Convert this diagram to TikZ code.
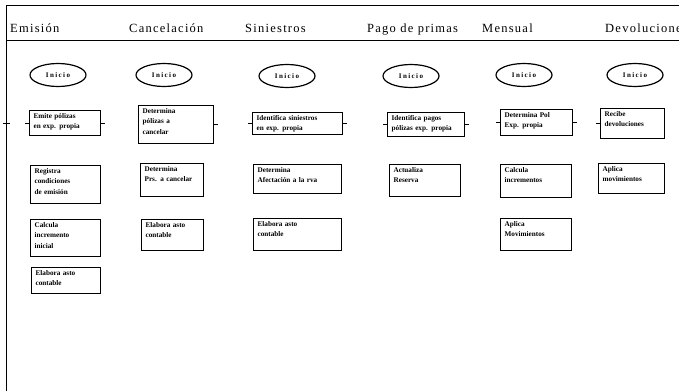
\documentclass[tikz,border=0pt]{standalone}
\usepackage{fontspec}
\setmainfont{Liberation Serif}
\newfontfamily\headfont[LetterSpace=10]{Liberation Serif}
\newfontfamily\iniciofont[LetterSpace=20]{Liberation Serif}
\usetikzlibrary{shapes.geometric}
\tikzset{
  marco/.style={line width=1pt},
  titulo/.style={anchor=base west,inner sep=0pt,font=\headfont\fontsize{12.5}{14}\selectfont},
  inicio/.style={ellipse,draw,line width=1.2pt,minimum width=56pt,minimum height=23pt,inner sep=0pt,font=\iniciofont\fontsize{7}{8}\selectfont\bfseries},
  paso/.style={rectangle,draw,line width=1.3pt,anchor=north west,align=left,inner xsep=4pt,inner ysep=2.5pt,font=\fontsize{7.2}{10.5}\selectfont\bfseries},
  caja/.style 2 args={text width=#1,text depth=#2},
  stub/.style={line width=0.8pt}
}

\begin{document}
\begin{tikzpicture}[x=1pt,y=-1pt]
  \useasboundingbox (0,0) rectangle (679,391);
  % marco
  \draw[marco] (6,391) -- (6,5) -- (690,5);
  \draw[marco] (6,40) -- (690,40);
  \draw[stub] (3,123) -- (10,123);
  % encabezados
  \node[titulo] (hemi) at (10,32) {Emisión};
  \node[titulo] (hcan) at (129,32) {Cancelación};
  \node[titulo] (hsin) at (245,32) {Siniestros};
  \node[titulo] (hpag) at (367,32) {Pago de primas};
  \node[titulo] (hmen) at (482,32) {Mensual};
  \node[titulo] (hdev) at (605,32) {Devoluciones};
  % inicio
  \node[inicio] (iemi) at (58,75) {Inicio};
  \node[inicio] (ican) at (164,75) {Inicio};
  \node[inicio] (isin) at (287,76) {Inicio};
  \node[inicio] (ipag) at (411,76) {Inicio};
  \node[inicio] (imen) at (524,75) {Inicio};
  \node[inicio] (idev) at (635,75) {Inicio};
  % Emision
  \node[paso,caja={63pt}{14.7pt}] (e1) at (29,110) {Emite pólizas\\en exp. propia};
  \node[paso,caja={62pt}{27.7pt}] (e2) at (30,165) {Registra\\condiciones\\de emisión};
  \node[paso,caja={62pt}{26.7pt}] (e3) at (30,219) {Calcula\\incremento\\inicial};
  \node[paso,caja={61pt}{15.7pt}] (e4) at (31,267) {Elabora asto\\contable};
  % Cancelacion
  \node[paso,caja={67pt}{27.7pt}] (c1) at (138,105) {Determina\\pólizas a\\cancelar};
  \node[paso,caja={55pt}{22.7pt}] (c2) at (140,163) {Determina\\Prs. a cancelar};
  \node[paso,caja={54pt}{20.7pt}] (c3) at (141,219) {Elabora asto\\contable};
  % Siniestros
  \node[paso,caja={82pt}{11.7pt}] (s1) at (252,112) {Identifica siniestros\\en exp. propia};
  \node[paso,caja={80pt}{18.7pt}] (s2) at (253,164) {Determina\\Afectación a la rva};
  \node[paso,caja={80pt}{21.7pt}] (s3) at (253,218) {Elabora asto\\contable};
  % Pago de primas
  \node[paso,caja={69pt}{13.7pt}] (p1) at (387,112) {Identifica pagos\\pólizas exp. propia};
  \node[paso,caja={63pt}{21.7pt}] (p2) at (389,164) {Actualiza\\Reserva};
  % Mensual
  \node[paso,caja={64pt}{15.7pt}] (m1) at (500,109) {Determina Pol\\Exp. propia};
  \node[paso,caja={63pt}{22.7pt}] (m2) at (500,164) {Calcula\\incrementos};
  \node[paso,caja={63pt}{21.7pt}] (m3) at (500,218) {Aplica\\Movimientos};
  % Devoluciones
  \node[paso,caja={56pt}{19.7pt}] (d1) at (600,108) {Recibe\\devoluciones};
  \node[paso,caja={58pt}{19.7pt}] (d2) at (598,163) {Aplica\\movimientos};
  % marcas
  \foreach \n in {e1,s1,p1,m1}
    \draw[stub] (\n.west) -- ++(-4,0) (\n.east) -- ++(4,0);
  \draw[stub] (c1.east) -- ++(4,0);
  \draw[stub] (d1.west) -- ++(-4,0);
\end{tikzpicture}
\end{document}
